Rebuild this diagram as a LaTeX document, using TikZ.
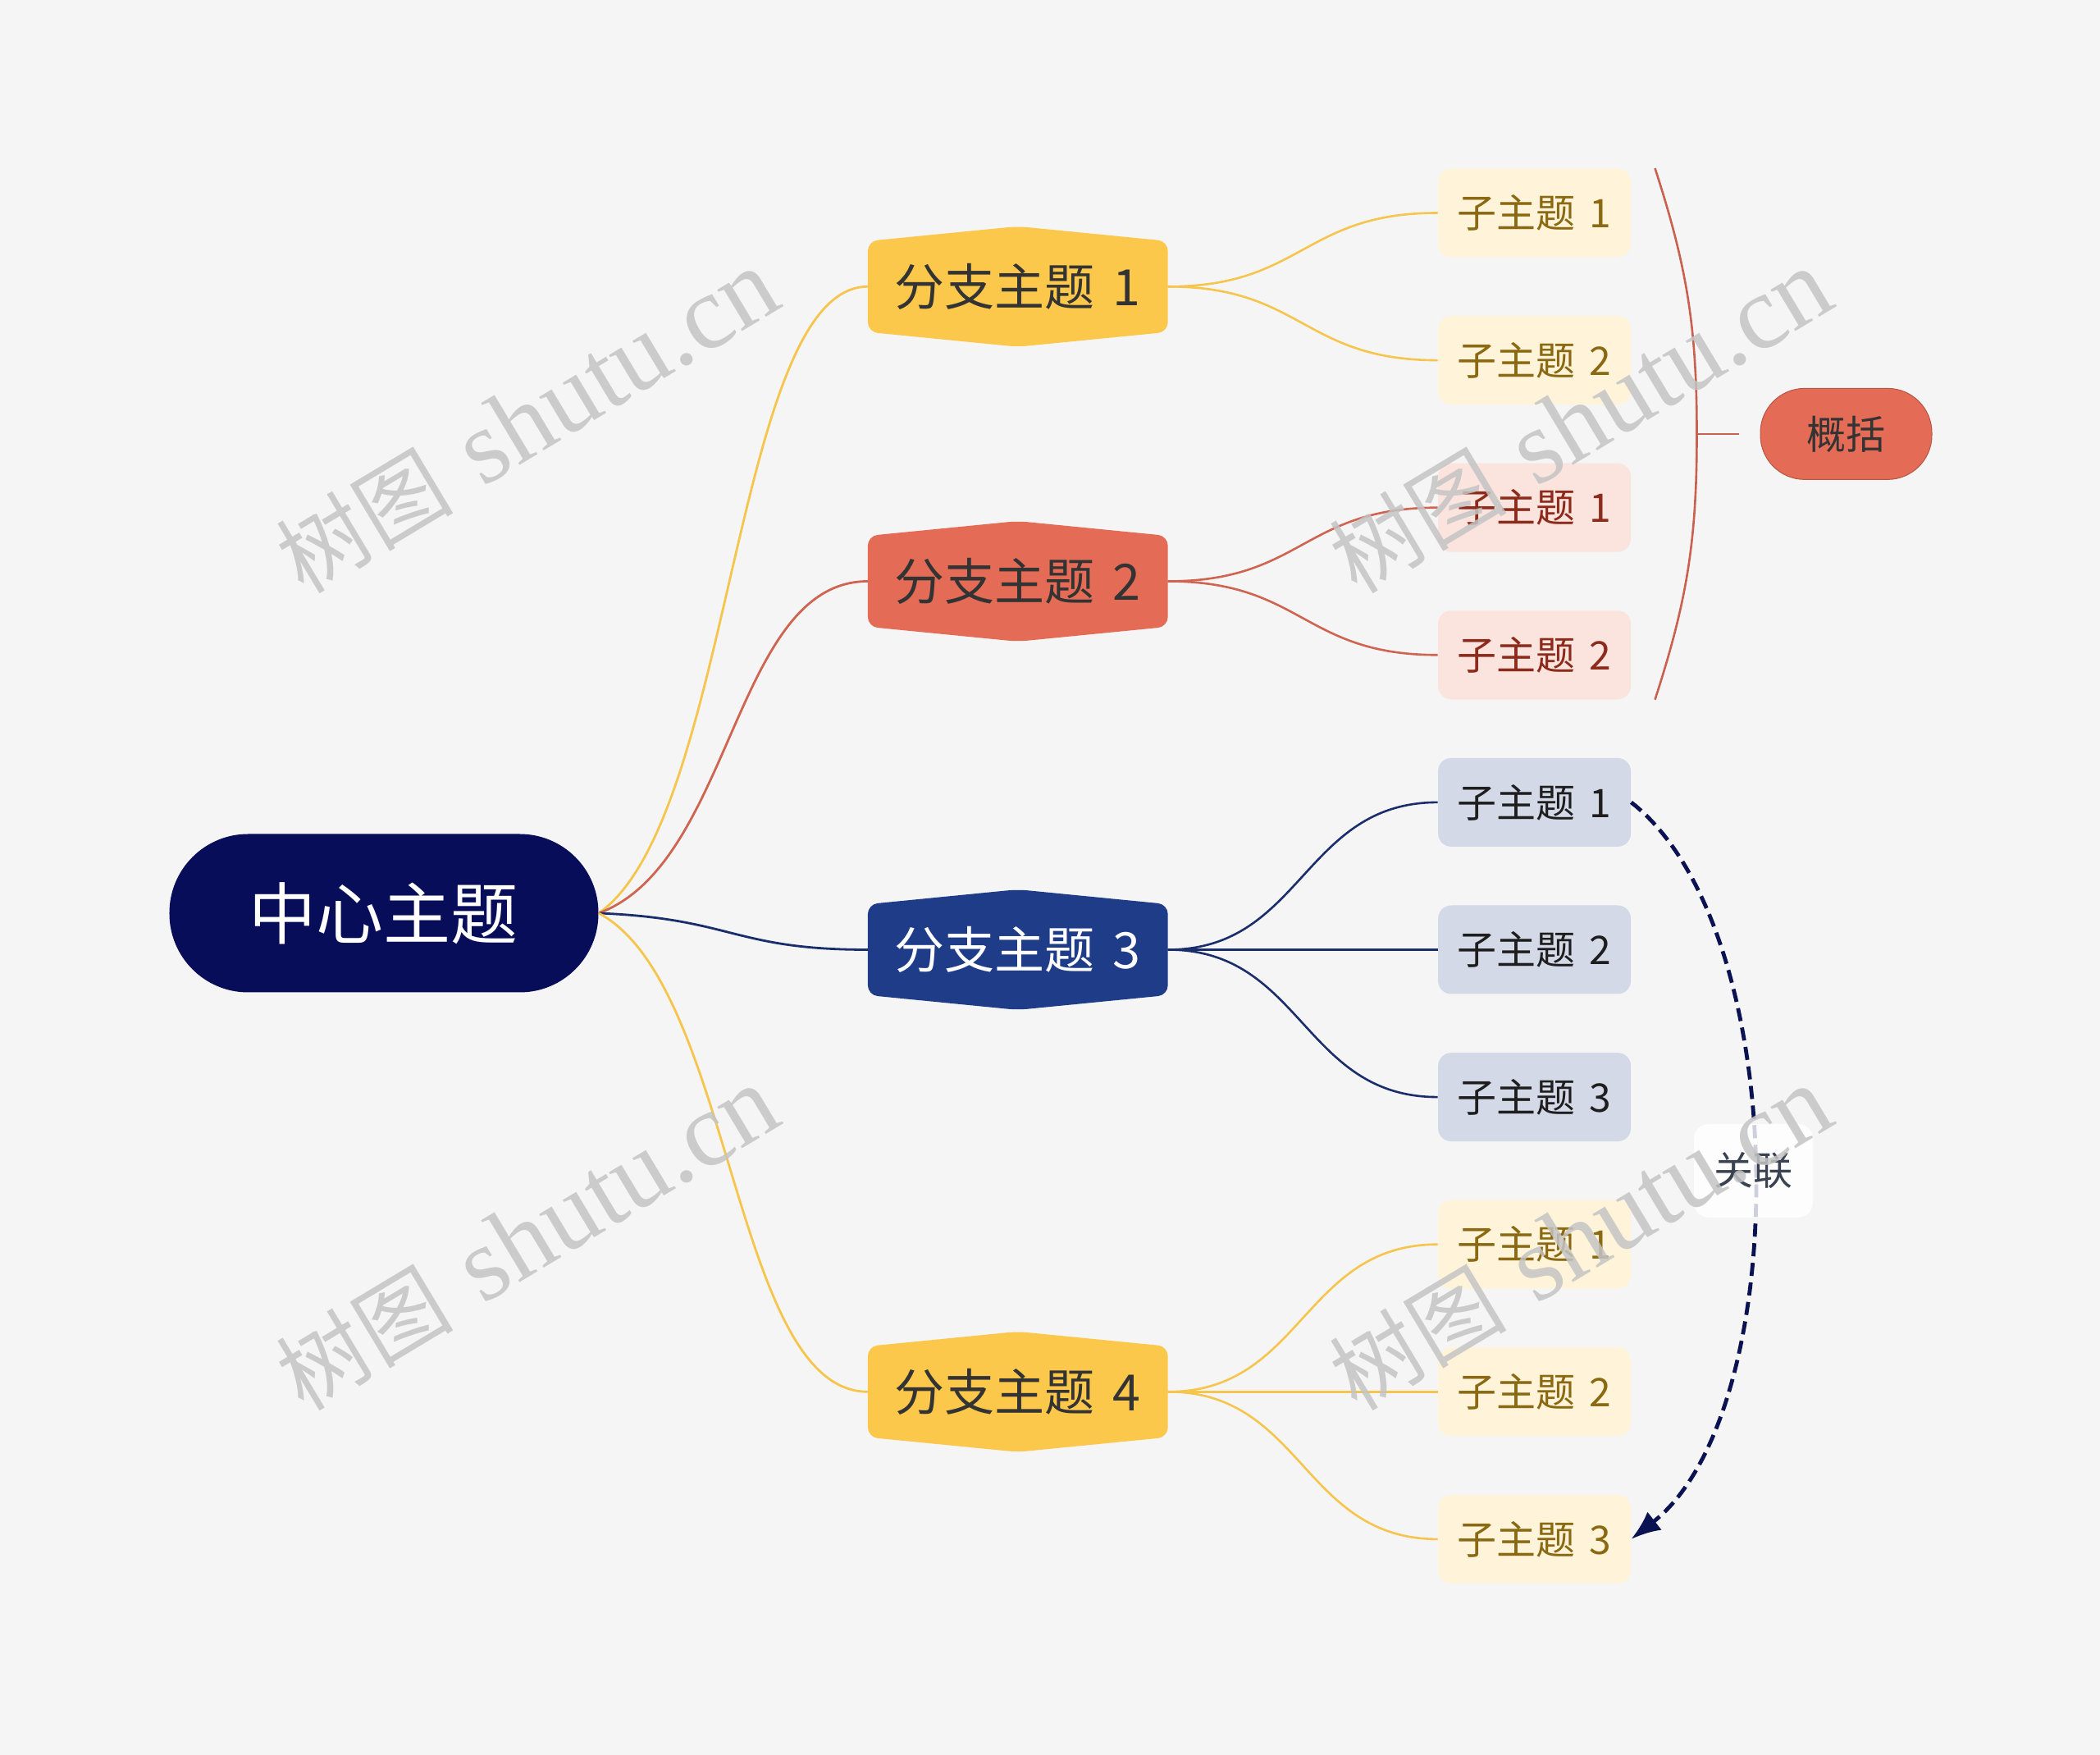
\documentclass[tikz,border=0pt]{standalone}
\usepackage{fontspec}
\setmainfont{Noto Sans CJK SC}[WordSpace=1.6]
\newfontfamily\wmfont{Liberation Serif}
\usepackage{tikz}
\usetikzlibrary{arrows.meta,positioning,calc,backgrounds}
\definecolor{paper}{HTML}{F5F5F5}
\definecolor{navy}{HTML}{070D59}
\definecolor{ybr}{HTML}{FCC84B}
\definecolor{rbr}{HTML}{E46B55}
\definecolor{bbr}{HTML}{1F3C88}
\definecolor{yleaf}{HTML}{FFF4D9}
\definecolor{rleaf}{HTML}{FBE3DE}
\definecolor{bleaf}{HTML}{D4D9E8}
\definecolor{ytxt}{HTML}{8A6912}
\definecolor{rtxt}{HTML}{8C2A1B}
\definecolor{btxt}{HTML}{1E1E1E}
\definecolor{yline}{HTML}{F5C54D}
\definecolor{rline}{HTML}{CF6450}
\definecolor{bline}{HTML}{1B2E6C}
\definecolor{ink}{HTML}{333333}
\definecolor{relc}{HTML}{0B1252}
\definecolor{tagtxt}{HTML}{3B4352}
\definecolor{bracec}{HTML}{C8614F}
\definecolor{wm}{HTML}{C4C4C4}
\tikzset{
  hub/.style={fill=navy,text=white,rounded corners=48pt,minimum width=261.5pt,
    minimum height=96.5pt,inner sep=0pt,font=\fontsize{41}{46}\selectfont},
  branch/.style={minimum width=182.5pt,minimum height=55pt,inner sep=0pt,
    font=\fontsize{30.5}{34}\selectfont,text=ink},
  leaf/.style={rounded corners=8pt,minimum width=117.5pt,minimum height=54pt,
    inner sep=0pt,font=\fontsize{24}{28}\selectfont},
  yleafbox/.style={leaf,fill=yleaf,text=ytxt},
  rleafbox/.style={leaf,fill=rleaf,text=rtxt},
  bleafbox/.style={leaf,fill=bleaf,text=btxt},
  sumbox/.style={fill=rbr,draw=rbr!80!black,line width=0.5pt,rounded corners=27pt,
    minimum width=104.5pt,minimum height=55.5pt,inner sep=0pt,text=ink,
    font=\fontsize{24}{28}\selectfont},
  tag/.style={fill=white,fill opacity=0.8,text opacity=1,rounded corners=9pt,
    minimum width=72.5pt,minimum height=57pt,inner sep=0pt,text=tagtxt,
    font=\fontsize{24}{28}\selectfont},
  trunk/.style={line width=1.4pt,to path={let \p1=(\tikztostart),\p2=(\tikztotarget) in
    .. controls ({\x1+0.5*(\x2-\x1)},{\y1+0.15*(\y2-\y1)}) and ({\x1+0.5*(\x2-\x1)},\y2) .. (\tikztotarget)}},
  twig/.style={line width=1.3pt,to path={let \p1=(\tikztostart),\p2=(\tikztotarget) in
    .. controls ({0.5*(\x1+\x2)},\y1) and ({0.5*(\x1+\x2)},\y2) .. (\tikztotarget)}},
  rel/.style={-{Latex[length=18pt,width=14pt]},line width=2.4pt,color=relc,
    dash pattern=on 8pt off 4pt},
  brace/.style={line width=1.3pt,color=bracec},
  wmark/.style={rotate=31,text=wm,text opacity=0.85,font=\fontsize{54}{58}\selectfont},
  node distance=35.4pt
}
\begin{document}
\begin{tikzpicture}
  \useasboundingbox (-234pt,-513pt) rectangle (1046pt,556.5pt);
  \node[hub] (c) {中心主题};
  \node[branch,text=white,right=164pt of c,yshift=-22.25pt] (b3) {分支主题 3};
  % leaf column
  \node[bleafbox,right=164.5pt of b3] (l32) {子主题 2};
  \node[bleafbox,above=of l32] (l31) {子主题 1};
  \node[bleafbox,below=of l32] (l33) {子主题 3};
  \node[rleafbox,above=of l31] (l22) {子主题 2};
  \node[rleafbox,above=of l22] (l21) {子主题 1};
  \node[yleafbox,above=of l21] (l12) {子主题 2};
  \node[yleafbox,above=of l12] (l11) {子主题 1};
  \node[yleafbox,below=of l33] (l41) {子主题 1};
  \node[yleafbox,below=of l41] (l42) {子主题 2};
  \node[yleafbox,below=of l42] (l43) {子主题 3};
  % branches
  \coordinate (m1) at ($(l11.west)!0.5!(l12.west)$);
  \coordinate (m2) at ($(l21.west)!0.5!(l22.west)$);
  \node[branch,left=164.5pt of m1] (b1) {分支主题 1};
  \node[branch,left=164.5pt of m2] (b2) {分支主题 2};
  \node[branch,left=164.5pt of l42.west] (b4) {分支主题 4};
  \begin{scope}[on background layer]
    \fill[paper] (-234pt,-513pt) rectangle (1046pt,556.5pt);
    \foreach \n/\c in {b1/ybr,b2/rbr,b3/bbr,b4/ybr}
      \fill[\c,rounded corners=6pt] (\n.west) -- (\n.north west) -- ([yshift=9pt]\n.north)
        -- (\n.north east) -- (\n.south east) -- ([yshift=-9pt]\n.south)
        -- (\n.south west) -- cycle;
  \end{scope}
  \draw[trunk,yline] (c.east) to (b1.west);
  \draw[trunk,rline] (c.east) to (b2.west);
  \draw[trunk,bline] (c.east) to (b3.west);
  \draw[trunk,yline] (c.east) to (b4.west);
  \draw[twig,yline] (b1.east) to (l11.west);
  \draw[twig,yline] (b1.east) to (l12.west);
  \draw[twig,rline] (b2.east) to (l21.west);
  \draw[twig,rline] (b2.east) to (l22.west);
  \foreach \i in {1,2,3}
    \draw[twig,bline] (b3.east) to (l3\i.west);
  \foreach \i in {1,2,3}
    \draw[twig,yline] (b4.east) to (l4\i.west);
  % summary
  \coordinate[right=14.5pt of l11.north east] (bt);
  \coordinate[right=14.5pt of l22.south east] (bb);
  \coordinate (bm) at ($(bt)!0.5!(bb)+(25.5pt,0)$);
  \coordinate[right=25.5pt of bm] (tk);
  \node[sumbox,right=13pt of tk] (s) {概括};
  \draw[brace] (bt) to[out=-72,in=90] (bm) to[out=-90,in=72] (bb);
  \draw[brace] (bm) -- (tk);
  % relation
  \draw[rel] (l31.east) to[out=-38,in=38,looseness=0.72] node[tag] (t) {关联} (l43.east);
  % watermarks
  \foreach \x/\y [count=\i] in {87.5/299.5,729.5/299.5,87.5/-198.5,729.5/-198.5}
    \node[wmark] (wm\i) at (\x pt,\y pt) {树图 {\wmfont\fontsize{64}{68}\selectfont shutu.cn}};
\end{tikzpicture}
\end{document}
